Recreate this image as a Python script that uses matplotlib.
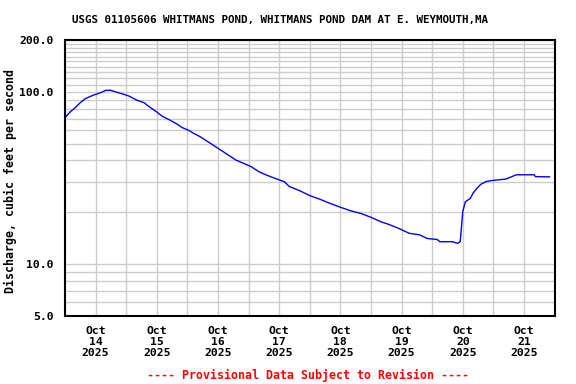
import numpy as np
import matplotlib
matplotlib.use("Agg")
import matplotlib.pyplot as plt

# discharge: hours since Oct 14 00:00, cfs
hours = [0, 2, 4, 6, 8, 11, 14, 16, 18, 20, 23, 25, 28, 31, 33, 36, 38, 41, 44, 46,
         49, 50, 53, 56, 58, 61, 63, 67, 70, 73, 76, 79, 83, 86, 88, 92, 96, 100,
         104, 108, 112, 116, 120, 124, 127, 131, 135, 139, 142, 146, 147, 152, 154,
         155, 155.5, 156, 157, 159, 160, 161.5, 163, 165, 167, 173, 177, 184, 184.5, 190]
flow = [70.8, 76.4, 80.9, 86.5, 91.3, 95.5, 98.9, 102, 102, 99.8, 96.8, 94.6, 89.7,
        86.5, 82.0, 76.4, 72.4, 68.7, 64.9, 62.0, 59.3, 57.9, 54.9, 51.4, 49.2, 46.0,
        44.0, 40.2, 38.5, 36.8, 34.4, 32.9, 31.2, 30.1, 28.2, 26.7, 25.0, 23.8, 22.5,
        21.4, 20.4, 19.7, 18.7, 17.6, 17.0, 16.1, 15.1, 14.8, 14.1, 13.9, 13.5, 13.5,
        13.2, 13.5, 16.5, 20.2, 23.0, 24.1, 25.8, 27.5, 29.0, 30.1, 30.5, 31.2, 33.0,
        33.0, 32.2, 32.1]

day_labels = ["Oct\n14\n2025", "Oct\n15\n2025", "Oct\n16\n2025", "Oct\n17\n2025",
              "Oct\n18\n2025", "Oct\n19\n2025", "Oct\n20\n2025", "Oct\n21\n2025"]
y_major = [5, 10, 100, 200]
y_major_labels = ["5.0", "10.0", "100.0", "200.0"]
y_minor = [6, 7, 8, 9, 20, 30, 40, 50, 60, 70, 80, 90,
           110, 120, 130, 140, 150, 160, 170, 180, 190]

plt.rcParams['font.family'] = 'DejaVu Sans Mono'
plt.rcParams['font.weight'] = 'bold'

fig = plt.figure(figsize=(5.76, 3.84), dpi=100)
ax = fig.add_axes([0.1128, 0.177, 0.85, 0.719])

days = np.array(hours) / 24.0
ax.plot(days, flow, color='#0000ff', linewidth=1.0)

ax.set_yscale('log')
ax.set_ylim(5, 200)
ax.set_xlim(0, 8)

# y ticks
ax.set_yticks(y_major)
ax.set_yticklabels(y_major_labels)
ax.set_yticks(y_minor, minor=True)
ax.yaxis.set_minor_formatter(plt.NullFormatter())

# x ticks: grid at midnight, labels at noon
ax.set_xticks(range(1, 8))
ax.set_xticklabels([])
ax.set_xticks(np.arange(len(day_labels)) + 0.5, minor=True)
ax.set_xticklabels(day_labels, minor=True, fontsize=8.2, fontweight='bold',
                   linespacing=1.15)

ax.tick_params(axis='both', which='both', length=0)
ax.tick_params(axis='y', which='major', labelsize=8.2, pad=8)
ax.tick_params(axis='x', which='minor', pad=7)

ax.grid(True, which='both', color='#cccccc', linewidth=1.0)
ax.set_axisbelow(True)
for sp in ax.spines.values():
    sp.set_linewidth(1.5)
    sp.set_color('black')

ax.set_ylabel("Discharge, cubic feet per second", fontsize=8.4, fontweight='bold')
ax.yaxis.set_label_coords(-0.098, 0.49)

fig.text(0.486, 0.948, "USGS 01105606 WHITMANS POND, WHITMANS POND DAM AT E. WEYMOUTH,MA",
         ha='center', va='center', fontsize=7.8, fontweight='bold')
fig.text(0.535, 0.023, "---- Provisional Data Subject to Revision ----",
         ha='center', va='center', fontsize=8.4, fontweight='bold', color='red')

fig.savefig("out.png", dpi=100)
